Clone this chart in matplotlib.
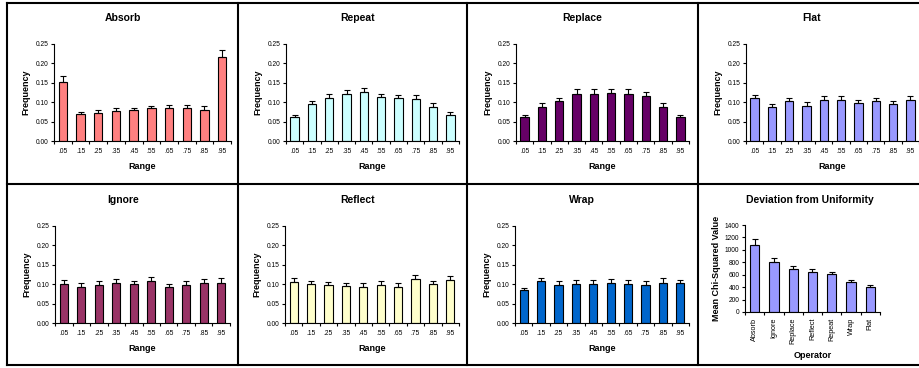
import matplotlib
matplotlib.use("Agg")
from matplotlib import pyplot as plt
from matplotlib.lines import Line2D

plt.rcParams["font.family"] = ["Liberation Sans", "DejaVu Sans"]

W, H = 920, 368

range_labels = [".05", ".15", ".25", ".35", ".45", ".55", ".65", ".75", ".85", ".95"]

absorb = [0.152, 0.070, 0.073, 0.078, 0.080, 0.085, 0.086, 0.086, 0.081, 0.216]
absorb_err = [0.015, 0.006, 0.007, 0.007, 0.006, 0.006, 0.007, 0.007, 0.008, 0.018]
repeat = [0.062, 0.095, 0.111, 0.122, 0.126, 0.113, 0.111, 0.109, 0.088, 0.068]
repeat_err = [0.005, 0.009, 0.010, 0.010, 0.010, 0.009, 0.008, 0.010, 0.009, 0.006]
replace = [0.061, 0.088, 0.102, 0.122, 0.122, 0.124, 0.122, 0.116, 0.088, 0.061]
replace_err = [0.006, 0.010, 0.010, 0.012, 0.011, 0.010, 0.011, 0.011, 0.009, 0.007]
flat = [0.110, 0.088, 0.102, 0.091, 0.106, 0.106, 0.098, 0.102, 0.095, 0.105]
flat_err = [0.008, 0.008, 0.009, 0.009, 0.010, 0.010, 0.007, 0.008, 0.009, 0.010]
ignore = [0.100, 0.092, 0.097, 0.104, 0.100, 0.108, 0.092, 0.097, 0.104, 0.104]
ignore_err = [0.010, 0.010, 0.010, 0.009, 0.009, 0.010, 0.008, 0.010, 0.009, 0.011]
reflect = [0.105, 0.100, 0.097, 0.095, 0.093, 0.098, 0.093, 0.114, 0.100, 0.110]
reflect_err = [0.011, 0.008, 0.008, 0.008, 0.009, 0.009, 0.009, 0.010, 0.008, 0.011]
wrap = [0.085, 0.107, 0.098, 0.101, 0.101, 0.104, 0.101, 0.098, 0.104, 0.102]
wrap_err = [0.006, 0.010, 0.009, 0.009, 0.009, 0.010, 0.009, 0.009, 0.011, 0.009]

operators = ["Absorb", "Ignore", "Replace", "Reflect", "Repeat", "Wrap", "Flat"]
chi_sq = [1080, 805, 692, 638, 605, 486, 405]
chi_sq_err = [92, 71, 54, 48, 44, 33, 33]

# name, values, errors, colour, axes box (left, top, right, bottom px), title centre x
panels = [
    ("Absorb", absorb, absorb_err, "#FF8080", (54, 44, 231, 141), 123),
    ("Repeat", repeat, repeat_err, "#CCFFFF", (286, 44, 459, 141), 358),
    ("Replace", replace, replace_err, "#660066", (516, 44, 689, 141), 582),
    ("Flat", flat, flat_err, "#9999FF", (746, 44, 919, 141), 812),
    ("Ignore", ignore, ignore_err, "#993366", (55, 226, 230, 323), 123),
    ("Reflect", reflect, reflect_err, "#FFFFCC", (285, 226, 459, 323), 358),
    ("Wrap", wrap, wrap_err, "#0066CC", (515, 226, 689, 323), 582),
]


def box(l, t, r, b):
    return [l / W, 1 - b / H, (r - l) / W, (b - t) / H]


def style(ax):
    for side in ("top", "right"):
        ax.spines[side].set_visible(False)
    for side in ("left", "bottom"):
        ax.spines[side].set_linewidth(0.8)
    ax.tick_params(axis="y", direction="out", length=2.5, width=0.8, labelsize=4.8, pad=1.5)


fig = plt.figure(figsize=(W / 100, H / 100), dpi=100)

for name, vals, errs, color, rect, tx in panels:
    ax = fig.add_axes(box(*rect))
    style(ax)
    xs = list(range(len(vals)))
    ax.bar(xs, vals, width=0.48, color=color, edgecolor="black", linewidth=0.8, zorder=2)
    ax.errorbar(xs, vals, yerr=[[0] * len(errs), errs], fmt="none", ecolor="black",
                elinewidth=0.8, capsize=2.2, capthick=0.8, zorder=3)
    ax.set_xlim(-0.5, len(vals) - 0.5)
    ax.set_ylim(0, 0.25)
    ax.set_yticks([0, 0.05, 0.10, 0.15, 0.20, 0.25])
    ax.set_yticklabels(["0.00", "0.05", "0.10", "0.15", "0.20", "0.25"])
    ax.set_xticks(xs)
    ax.set_xticklabels(range_labels)
    ax.set_xticks([x - 0.5 for x in range(len(vals) + 1)], minor=True)
    ax.tick_params(axis="x", which="major", length=0, labelsize=4.8, pad=5)
    ax.tick_params(axis="x", which="minor", direction="out", length=2.5, width=0.8)
    ax.set_xlabel("Range", fontsize=6.5, fontweight="bold", labelpad=5)
    ax.set_ylabel("Frequency", fontsize=6.5, fontweight="bold", labelpad=4)
    ty = rect[1] - 26
    fig.text(tx / W, 1 - ty / H, name, ha="center", va="center",
             fontsize=7.5, fontweight="bold")

# deviation from uniformity panel
ax = fig.add_axes(box(745, 225, 880, 312))
style(ax)
xs = list(range(len(operators)))
ax.bar(xs, chi_sq, width=0.48, color="#9999FF", edgecolor="black", linewidth=0.8, zorder=2)
ax.errorbar(xs, chi_sq, yerr=[[0] * len(chi_sq_err), chi_sq_err], fmt="none", ecolor="black",
            elinewidth=0.8, capsize=2.2, capthick=0.8, zorder=3)
ax.set_xlim(-0.5, len(operators) - 0.5)
ax.set_ylim(0, 1400)
ax.set_yticks(range(0, 1401, 200))
ax.set_xticks(xs)
ax.set_xticklabels(operators, rotation=90)
ax.set_xticks([x - 0.5 for x in range(len(operators) + 1)], minor=True)
ax.tick_params(axis="x", which="major", length=0, labelsize=5.2, pad=4)
ax.tick_params(axis="x", which="minor", direction="out", length=2.5, width=0.8)
ax.set_xlabel("Operator", fontsize=6.5, fontweight="bold", labelpad=5)
ax.set_ylabel("Mean Chi-Squared Value", fontsize=6.5, fontweight="bold", labelpad=3)
fig.text(810 / W, 1 - 200 / H, "Deviation from Uniformity", ha="center", va="center",
         fontsize=7.5, fontweight="bold")

# panel frame lines
frame = [((7, 920), (3, 3)), ((7, 920), (184, 184)), ((7, 920), (365, 365)),
         ((7, 7), (3, 365)), ((238, 238), (3, 365)), ((467, 467), (3, 365)),
         ((698, 698), (3, 365))]
for xp, yp in frame:
    fig.add_artist(Line2D([x / W for x in xp], [1 - y / H for y in yp],
                          color="black", linewidth=1.5))

fig.savefig("out.png", dpi=100)
